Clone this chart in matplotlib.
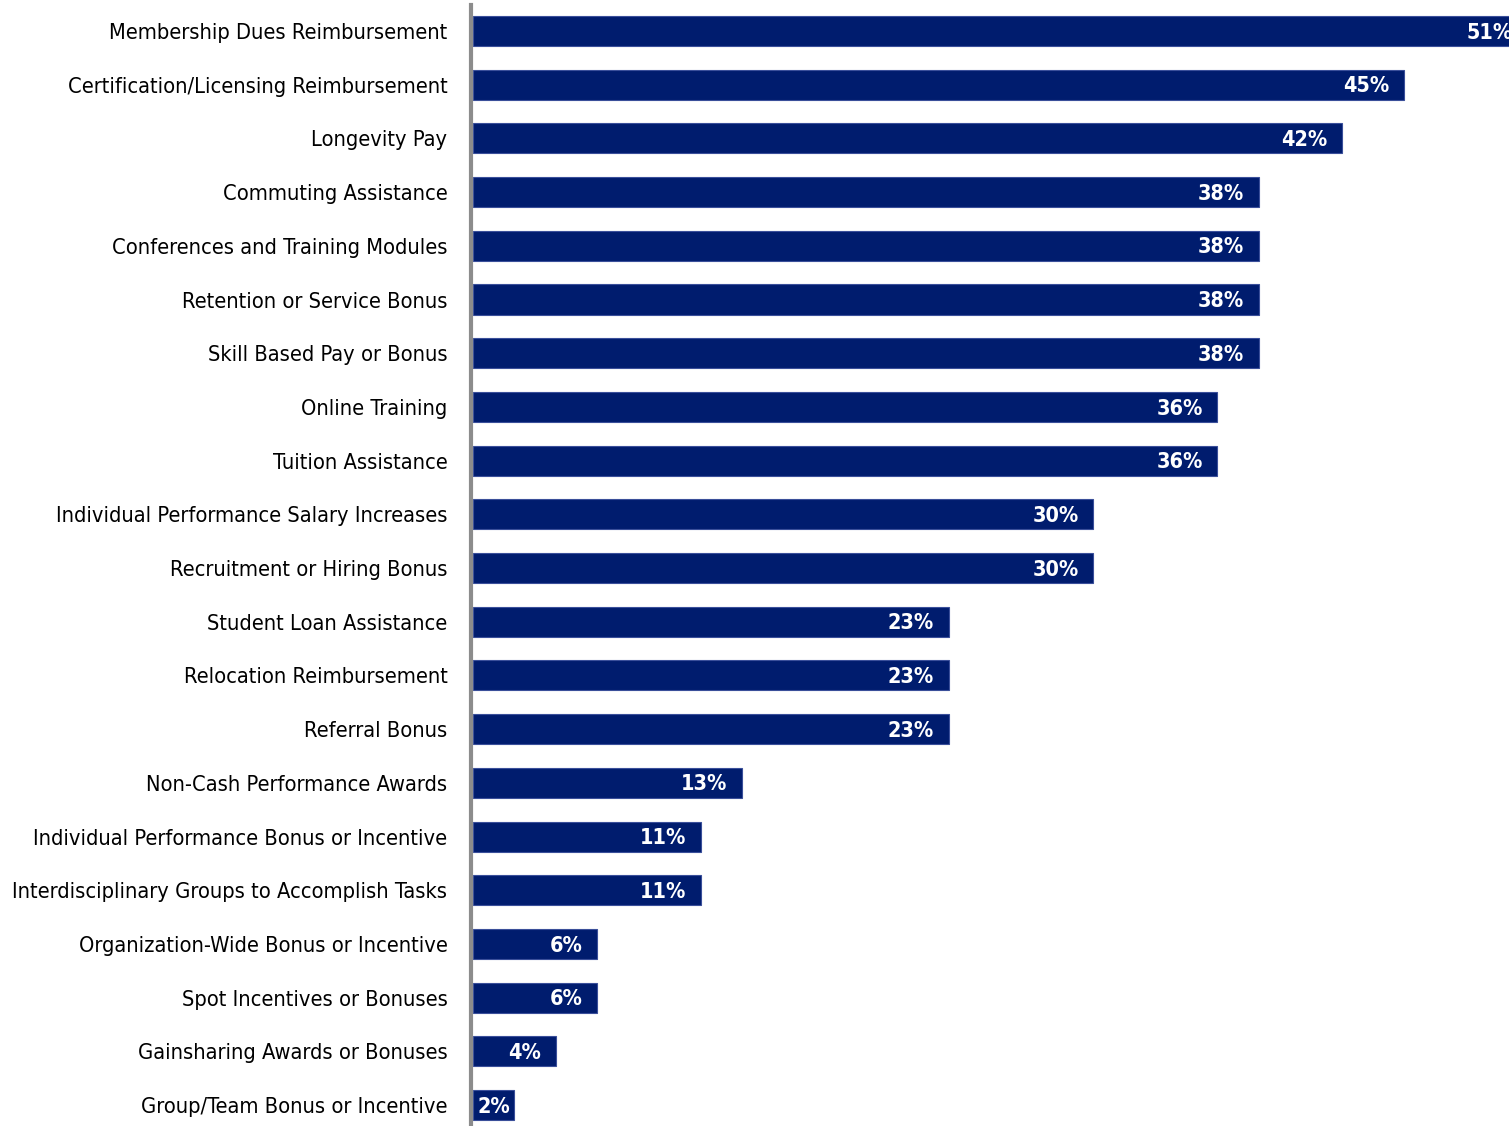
import matplotlib.pyplot as plt

# categories and values (percent)
categories = [
    "Membership Dues Reimbursement",
    "Certification/Licensing Reimbursement",
    "Longevity Pay",
    "Commuting Assistance",
    "Conferences and Training Modules",
    "Retention or Service Bonus",
    "Skill Based Pay or Bonus",
    "Online Training",
    "Tuition Assistance",
    "Individual Performance Salary Increases",
    "Recruitment or Hiring Bonus",
    "Student Loan Assistance",
    "Relocation Reimbursement",
    "Referral Bonus",
    "Non-Cash Performance Awards",
    "Individual Performance Bonus or Incentive",
    "Interdisciplinary Groups to Accomplish Tasks",
    "Organization-Wide Bonus or Incentive",
    "Spot Incentives or Bonuses",
    "Gainsharing Awards or Bonuses",
    "Group/Team Bonus or Incentive",
]
values = [51, 45, 42, 38, 38, 38, 38, 36, 36, 30, 30, 23, 23, 23, 13, 11, 11, 6, 6, 4, 2]

plt.rcParams['font.family'] = ['DejaVu Sans']
plt.rcParams['font.stretch'] = 'condensed'

navy = '#001C6E'

fig = plt.figure(figsize=(15.09, 11.26), dpi=100)
ax = fig.add_axes([471 / 1509, 0, 1 - 471 / 1509, 1 - 5 / 1126])

pos = list(range(len(categories)))
ax.barh(pos, values, height=0.56, color=navy, edgecolor='#3a4f9a', linewidth=0.8)

for p, v in zip(pos, values):
    if v < 3:
        # too short: label centred in the bar
        ax.text(v / 2, p + 0.03, f"{v}%", ha='center', va='center', color='white',
                fontsize=15.5, fontweight='bold', fontstretch='condensed')
    else:
        ax.text(v - 0.7, p + 0.03, f"{v}%", ha='right', va='center', color='white',
                fontsize=15.5, fontweight='bold', fontstretch='condensed')

ax.set_xlim(-0.1, 50.1)
ax.set_ylim(20.39, -0.484)
ax.tick_params(axis='y', length=0, pad=17, labelsize=15.7)
ax.set_yticks(pos)
ax.set_yticklabels(categories, fontsize=15.7, fontstretch='condensed')
ax.set_xticks([])

for s in ['top', 'right', 'bottom']:
    ax.spines[s].set_visible(False)
ax.spines['left'].set_color('#8c8c8c')
ax.spines['left'].set_linewidth(3)
ax.spines['left'].set_position(('data', -0.1))

fig.savefig('out.png', dpi=100)
